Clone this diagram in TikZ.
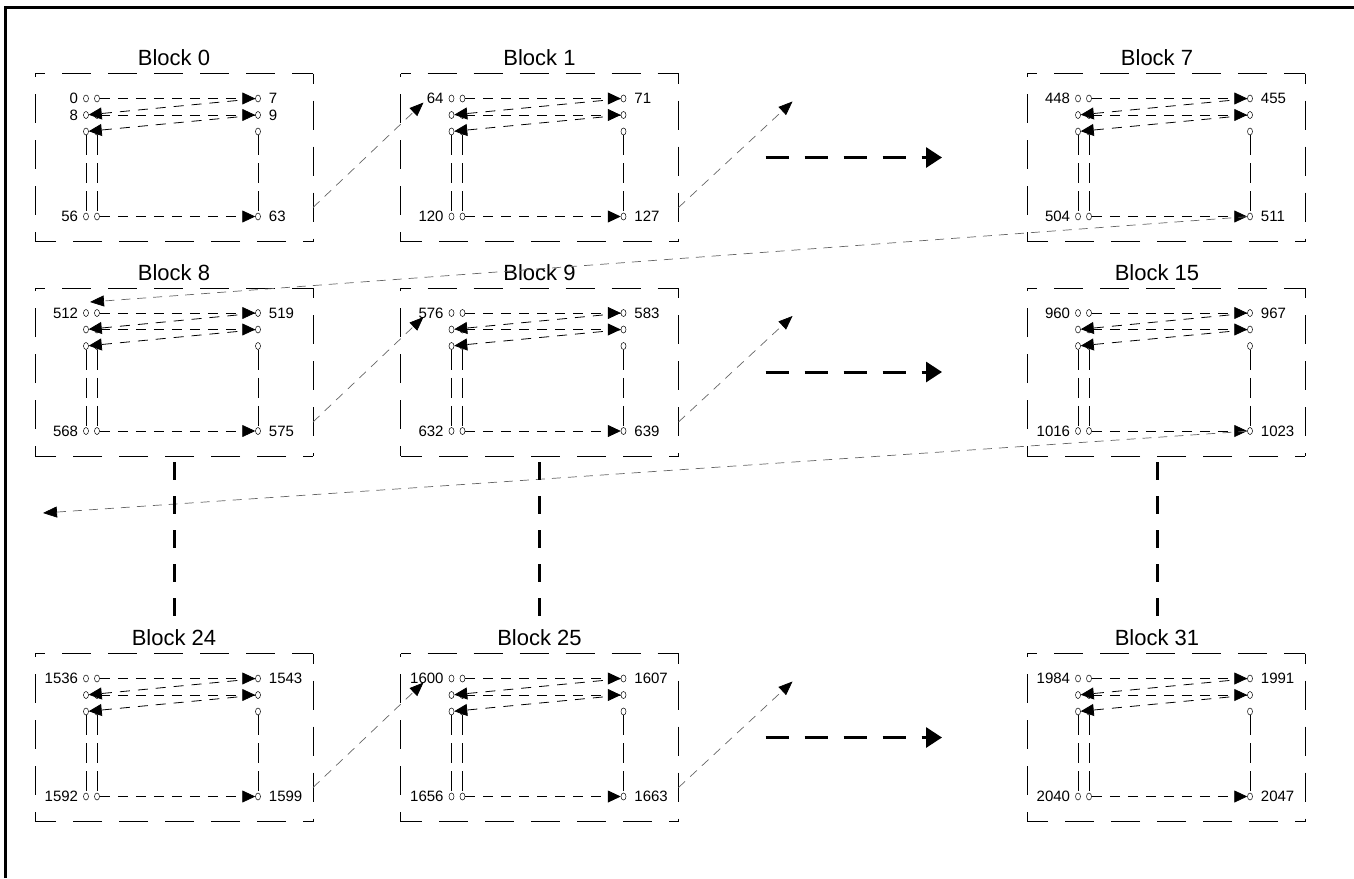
\documentclass[tikz,border=0pt]{standalone}
\usepackage{fontspec}
\setmainfont{Liberation Sans}
\usetikzlibrary{arrows.meta,shapes.geometric,positioning}

\tikzset{
  cell/.style={draw,ellipse,line width=0.5pt,minimum width=5pt,minimum height=7pt,inner sep=0pt},
  blockedge/.style={line width=0.9pt,dash pattern=on 29pt off 17pt,dash phase=19pt},
  blocktitle/.style={font=\fontsize{22}{26}\selectfont,inner sep=0pt},
  numlabel/.style={font=\fontsize{15}{18}\selectfont,inner sep=0pt},
  flow/.style={line width=0.8pt,dash pattern=on 10pt off 8pt,-{Triangle[length=13pt,width=12pt]}},
  column/.style={line width=0.8pt,dash pattern=on 20pt off 8pt},
  link/.style={black!60,line width=0.7pt,dash pattern=on 9pt off 7pt,-{Triangle[length=14pt,width=11pt,color=black]}},
  leap/.style={line width=3pt,dash pattern=on 23pt off 16pt,-{Triangle[length=16pt,width=20pt]}},
  stride/.style={line width=3pt,dash pattern=on 18pt off 16pt,shorten <=6pt,shorten >=12pt},
}

% one block of 64 cells: name, x, y, title, first, 7th, 56th, last, title shift
\newcommand{\memblock}[9]{%
  \begin{scope}[shift={(#2,#3)}]
    \draw[blockedge] (0,0) -- (278,0);
    \draw[blockedge] (278,0) -- (278,168);
    \draw[blockedge] (278,168) -- (0,168);
    \draw[blockedge] (0,168) -- (0,0);
    \node[blocktitle] (#1t) at ({139+(#9)},-15.5) {#4};
    \foreach \r/\y in {1/25,2/41.5,3/58,8/143}{
      \node[cell] (#1a\r) at (51,\y) {};
      \node[cell] (#1b\r) at (62,\y) {};
      \node[cell] (#1c\r) at (223,\y) {};
    }
    \node[numlabel,left=5pt of #1a1] (#1l1) {#5};
    \node[numlabel,right=8pt of #1c1] (#1r1) {#6};
    \node[numlabel,left=5pt of #1a8] (#1l8) {#7};
    \node[numlabel,right=8pt of #1c8] (#1r8) {#8};
    \draw[flow] (#1b1) -- (#1c1);
    \draw[flow] (#1c1) -- (#1a2);
    \draw[flow] (#1b2) -- (#1c2);
    \draw[flow] (#1c2) -- (#1a3);
    \draw[flow] (#1b8) -- (#1c8);
    \draw[column] (#1a3) -- (#1a8);
    \draw[column] (#1b3) -- (#1b8);
    \draw[column] (#1c3) -- (#1c8);
    \coordinate (#1in) at (23,29);
    \coordinate (#1out) at (278,134);
    \coordinate (#1next) at (392,28);
    \coordinate (#1top) at (55,14);
    \coordinate (#1e) at (278,84);
    \coordinate (#1w) at (0,84);
    \coordinate (#1s) at (139,168);
  \end{scope}}

\begin{document}
\begin{tikzpicture}[x=1pt,y=-1pt]
  \useasboundingbox (0,0) rectangle (1354,878);
  \draw[line width=3.5pt] (5.5,878) -- (5.5,7.5) -- (1354,7.5);

  \memblock{b0}{35}{73.5}{Block 0}{0}{7}{56}{63}{0}
  \memblock{b1}{400.5}{73.5}{Block 1}{64}{71}{120}{127}{0}
  \memblock{b7}{1027}{73.5}{Block 7}{448}{455}{504}{511}{-9}
  \memblock{b8}{35}{288}{Block 8}{512}{519}{568}{575}{0}
  \memblock{b9}{400.5}{288}{Block 9}{576}{583}{632}{639}{0}
  \memblock{b15}{1027}{288}{Block 15}{960}{967}{1016}{1023}{-9}
  \memblock{b24}{35}{653.5}{Block 24}{1536}{1543}{1592}{1599}{0}
  \memblock{b25}{400.5}{653.5}{Block 25}{1600}{1607}{1656}{1663}{0}
  \memblock{b31}{1027}{653.5}{Block 31}{1984}{1991}{2040}{2047}{-9}

  \node[numlabel,left=5pt of b0a2] (b0l2) {8};
  \node[numlabel,right=8pt of b0c2] (b0r2) {9};

  % links between blocks
  \draw[link] (b0out) -- (b1in);
  \draw[link] (b1out) -- (b1next);
  \draw[link] (b8out) -- (b9in);
  \draw[link] (b9out) -- (b9next);
  \draw[link] (b24out) -- (b25in);
  \draw[link] (b25out) -- (b25next);
  \draw[link] (b7c8) -- (b8top);
  \coordinate (wrap) at (43,513);
  \draw[link] (b15c8) -- (wrap);

  % skipped blocks
  \draw[leap] ([xshift=87pt]b1e) -- ([xshift=-85pt]b7w);
  \draw[leap] ([xshift=87pt]b9e) -- ([xshift=-85pt]b15w);
  \draw[leap] ([xshift=87pt]b25e) -- ([xshift=-85pt]b31w);
  \draw[stride] (b8s -| b24t) -- (b24t.north);
  \draw[stride] (b9s -| b25t) -- (b25t.north);
  \draw[stride] (b15s -| b31t) -- (b31t.north);
\end{tikzpicture}
\end{document}
